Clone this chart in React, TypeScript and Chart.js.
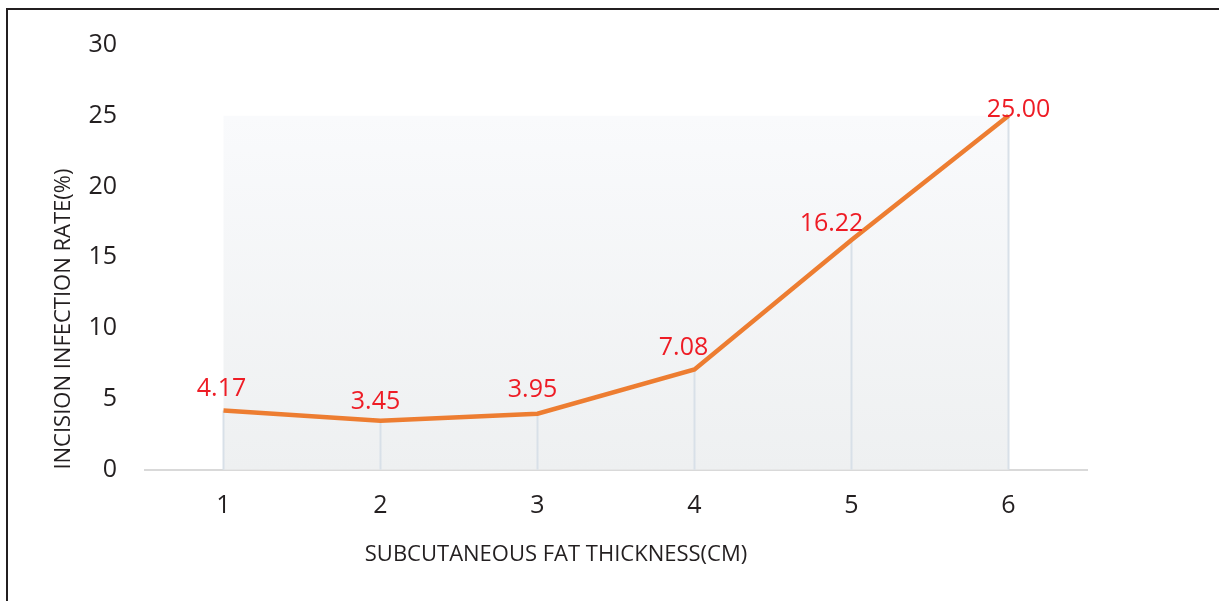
import React, { useEffect, useRef } from "react";
import { Chart, registerables } from "chart.js";

Chart.register(...registerables);

const categories: string[] = ["1", "2", "3", "4", "5", "6"];
const rates: number[] = [4.17, 3.45, 3.95, 7.08, 16.22, 25.0];
const yTicks: number[] = [0, 5, 10, 15, 20, 25, 30];
const xTitle = "SUBCUTANEOUS FAT THICKNESS(CM)";
const yTitle = "INCISION INFECTION RATE(%)";
// label offsets (px) relative to each point, for placement only
const labelDx: number[] = [-2, -5, -5, -11, -20, 10];
const labelDy: number[] = [-22, -19, -24, -22, -16, -6];

const FONT = "'Open Sans', 'Noto Sans', sans-serif";

const backdropPlugin = {
  id: "backdrop",
  beforeDatasetsDraw(chart: any) {
    const { ctx, scales } = chart;
    const xs = scales.x;
    const ys = scales.y;
    const x0 = xs.getPixelForValue(0);
    const x1 = xs.getPixelForValue(categories.length - 1);
    const yTop = ys.getPixelForValue(Math.max(...rates));
    const yBot = ys.getPixelForValue(0);
    ctx.save();
    const g = ctx.createLinearGradient(0, yTop, 0, yBot);
    g.addColorStop(0, "#f9fafc");
    g.addColorStop(1, "#eef0f1");
    ctx.fillStyle = g;
    ctx.fillRect(x0, yTop, x1 - x0, yBot - yTop);
    // drop lines
    const meta = chart.getDatasetMeta(0);
    ctx.strokeStyle = "#d8e0e8";
    ctx.lineWidth = 2;
    meta.data.forEach((pt: any) => {
      ctx.beginPath();
      ctx.moveTo(pt.x, pt.y);
      ctx.lineTo(pt.x, yBot);
      ctx.stroke();
    });
    ctx.restore();
  },
};

const labelPlugin = {
  id: "valueLabels",
  afterDatasetsDraw(chart: any) {
    const { ctx } = chart;
    const meta = chart.getDatasetMeta(0);
    ctx.save();
    ctx.font = `25px ${FONT}`;
    ctx.fillStyle = "#ee1c25";
    ctx.textAlign = "center";
    ctx.textBaseline = "middle";
    meta.data.forEach((pt: any, i: number) => {
      ctx.fillText(rates[i].toFixed(2), pt.x + labelDx[i], pt.y + labelDy[i]);
    });
    ctx.restore();
  },
};

export default function App() {
  const ref = useRef<HTMLCanvasElement | null>(null);
  useEffect(() => {
    if (!ref.current) return;
    const chart = new Chart(ref.current, {
      type: "line",
      data: {
        labels: categories,
        datasets: [
          {
            data: rates,
            borderColor: "#ed7d31",
            borderWidth: 4.5,
            pointRadius: 0,
            tension: 0,
            fill: false,
          },
        ],
      },
      options: {
        animation: false,
        responsive: false,
        layout: { padding: { left: 25, right: 132, top: 45, bottom: 33 } },
        plugins: {
          legend: { display: false },
          tooltip: { enabled: false },
          title: {
            display: true,
            position: "bottom",
            text: xTitle,
            color: "#231f20",
            font: { family: FONT, size: 22, weight: "normal" },
            padding: { top: 0, bottom: 0 },
          },
        },
        scales: {
          x: {
            type: "category",
            offset: true,
            grid: { display: false, drawTicks: false },
            border: { display: true, color: "#d9d9d9", width: 2 },
            ticks: {
              color: "#231f20",
              font: { family: FONT, size: 25 },
              padding: 21,
            },
          },
          y: {
            min: 0,
            max: 30,
            afterBuildTicks(scale: any) {
              scale.ticks = yTicks.map((v) => ({ value: v }));
            },
            afterFit(scale: any) {
              scale.width = 120;
            },
            grid: { display: false, drawTicks: false },
            border: { display: false },
            ticks: {
              color: "#231f20",
              font: { family: FONT, size: 25 },
              padding: 28,
            },
            title: {
              display: true,
              text: yTitle,
              align: "start",
              color: "#231f20",
              font: { family: FONT, size: 22, weight: "normal" },
              padding: { top: 26, bottom: 0 },
            },
          },
        },
      },
      plugins: [backdropPlugin, labelPlugin],
    } as any);
    return () => chart.destroy();
  }, []);

  return (
    <div style={{ position: "absolute", left: 0, top: 0, width: 1219, height: 601, background: "#fff" }}>
      <canvas ref={ref} width={1219} height={601} style={{ position: "absolute", left: 0, top: 0, width: 1219, height: 601 }} />
      <div
        style={{
          position: "absolute",
          left: 6,
          top: 8,
          width: 1213,
          height: 593,
          borderTop: "2px solid #231f20",
          borderLeft: "2px solid #231f20",
          boxSizing: "border-box",
          pointerEvents: "none",
        }}
      />
    </div>
  );
}
